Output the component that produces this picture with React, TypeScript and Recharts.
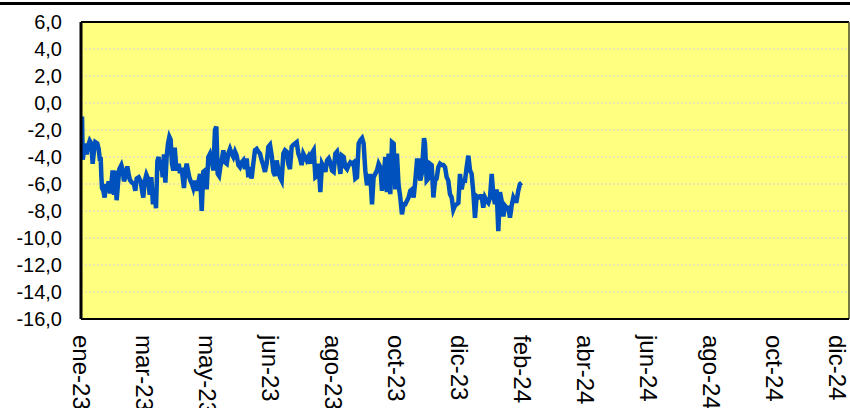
import React from "react";
import { LineChart, Line, XAxis, YAxis, CartesianGrid, ReferenceLine } from "recharts";

// days since 1 Jan 2023
const days: number[] = [
  1.0, 1.6, 2.9, 4.1, 5.4, 6.7, 8.3, 9.8, 11.1, 12.4, 13.6, 15.5, 16.8, 18.1, 18.7, 19.4, 20.0, 21.3, 22.5, 23.8,
  25.1, 26.3, 27.6, 28.9, 30.1, 31.4, 32.7, 33.9, 35.2, 36.5, 38.4, 39.7, 40.9, 42.2, 44.1, 45.4, 46.6, 48.5, 50.4, 51.7,
  53.0, 54.9, 56.8, 58.1, 59.3, 60.6, 62.2, 63.8, 65.4, 66.9, 68.5, 70.1, 71.4, 72.7, 73.9, 75.2, 76.5, 77.7, 79.0, 80.3,
  81.5, 82.8, 84.1, 85.3, 86.6, 87.9, 89.2, 90.4, 91.7, 93.0, 94.2, 95.5, 96.8, 98.0, 99.3, 100.6, 101.8, 103.1, 104.4, 105.7,
  106.9, 108.5, 110.1, 113.3, 114.9, 116.4, 118.0, 119.6, 121.2, 122.8, 124.4, 126.0, 127.5, 128.8, 130.1, 131.4, 132.6, 133.9, 135.5, 137.1,
  138.7, 140.2, 141.8, 143.4, 145.0, 146.6, 148.2, 149.8, 151.3, 152.9, 154.5, 156.1, 157.7, 159.3, 160.9, 162.4, 164.0, 165.6, 167.2, 168.8,
  170.4, 172.0, 173.5, 175.1, 176.7, 178.3, 179.9, 181.5, 183.1, 184.7, 186.2, 187.8, 189.4, 191.0, 192.6, 194.2, 195.8, 197.3, 198.9, 200.5,
  202.1, 203.7, 205.3, 206.9, 208.5, 210.0, 211.6, 213.2, 214.8, 216.4, 218.0, 219.6, 221.5, 223.1, 224.7, 226.2, 227.8, 229.4, 231.0, 232.6,
  234.2, 235.8, 237.3, 238.9, 240.5, 242.1, 243.7, 245.3, 246.9, 248.4, 250.0, 251.6, 253.2, 254.8, 256.4, 257.9, 259.5, 261.1, 262.7, 264.3,
  265.9, 267.5, 269.0, 270.6, 272.2, 273.8, 275.4, 277.0, 278.5, 280.1, 281.7, 283.3, 284.9, 286.5, 288.1, 289.6, 291.2, 292.8, 294.4, 296.0,
  297.6, 299.2, 300.7, 302.3, 303.9, 305.5, 307.1, 308.7, 310.2, 311.8, 313.4, 315.0, 316.6, 318.2, 319.8, 321.3, 322.9, 324.3, 326.5, 327.4,
  329.0, 330.6, 332.2, 333.8, 335.4, 337.0, 338.5, 340.1, 341.7, 343.3, 344.9, 346.5, 348.1, 349.6, 351.2, 352.8, 354.4, 356.0, 357.6, 359.2,
  360.7, 362.3, 363.9, 365.5, 367.1, 368.7, 370.3, 371.8, 373.4, 375.0, 376.6, 378.2, 379.8, 381.3, 382.9, 384.5, 386.1, 387.7, 389.3, 390.9,
  392.4, 394.0, 395.6, 397.2, 398.8, 400.4, 402.0, 403.5, 405.1, 406.7, 408.3, 409.9, 411.5, 413.0, 414.6, 416.2, 417.8, 419.4,
];

const values: number[] = [
  -1.0, -4.2, -3.5, -3.0, -3.8, -3.2, -2.8, -3.0, -4.5, -3.5, -2.9, -3.0, -3.4, -4.3, -4.0, -5.5, -6.3, -6.5, -7.0, -6.0,
  -6.5, -5.8, -6.7, -6.0, -5.0, -6.8, -5.0, -7.2, -6.0, -4.9, -4.6, -5.0, -5.8, -5.5, -4.7, -5.3, -5.7, -5.9, -6.0, -6.5,
  -5.6, -5.5, -5.8, -6.5, -7.0, -5.8, -5.3, -5.6, -6.8, -5.5, -7.5, -6.5, -7.8, -4.3, -4.0, -5.0, -4.2, -5.5, -3.8, -5.9,
  -4.0, -3.0, -2.5, -2.7, -4.5, -5.0, -3.3, -4.5, -5.0, -4.5, -5.2, -4.8, -5.5, -6.3, -5.0, -4.5, -5.0, -5.5, -5.8, -6.0,
  -6.3, -5.75, -6.5, -5.25, -8.0, -5.1, -5.0, -6.4, -4.0, -3.75, -4.25, -5.0, -2.0, -1.75, -5.25, -5.4, -4.75, -4.25, -3.5, -4.4,
  -4.5, -3.75, -3.4, -3.75, -4.0, -3.6, -3.9, -4.6, -4.75, -4.4, -4.25, -4.9, -4.1, -5.5, -4.75, -5.6, -4.5, -3.5, -3.4, -3.6,
  -3.75, -4.25, -4.6, -5.1, -4.5, -3.25, -3.1, -3.9, -5.1, -5.4, -4.25, -4.9, -5.5, -5.75, -3.75, -3.5, -3.6, -4.5, -4.9, -3.25,
  -3.1, -3.0, -2.9, -3.75, -4.1, -4.6, -3.75, -4.0, -4.25, -4.0, -4.5, -3.75, -3.5, -5.5, -5.4, -4.5, -6.6, -4.5, -4.75, -5.1,
  -4.25, -4.1, -4.4, -5.0, -5.1, -3.75, -3.6, -4.25, -5.25, -3.9, -4.0, -4.75, -4.9, -4.6, -4.4, -4.5, -4.4, -5.6, -5.5, -3.0,
  -2.75, -2.6, -3.0, -5.0, -6.1, -5.4, -5.4, -7.5, -5.5, -5.25, -5.0, -4.5, -4.75, -6.5, -5.5, -4.0, -6.6, -3.75, -6.75, -2.9,
  -3.0, -6.4, -3.75, -6.1, -7.0, -8.25, -7.5, -7.5, -7.25, -7.0, -6.5, -6.4, -7.0, -5.75, -4.25, -4.25, -5.75, -5.25, -2.6, -3.0,
  -5.75, -5.6, -4.5, -4.6, -7.0, -5.75, -5.6, -4.75, -4.5, -4.6, -4.6, -4.75, -5.5, -5.75, -6.75, -7.0, -7.9, -7.6, -7.5, -7.4,
  -5.25, -6.4, -5.75, -5.75, -4.75, -3.9, -5.0, -5.25, -6.6, -8.5, -6.9, -7.0, -6.9, -6.9, -7.75, -7.0, -7.25, -7.4, -7.0, -5.25,
  -6.75, -7.5, -6.4, -9.5, -6.6, -7.25, -8.4, -7.6, -7.75, -7.75, -8.5, -7.6, -7.0, -7.25, -7.25, -6.5, -6.0, -5.9,
];

const tickDays: number[] = [0, 60, 120, 180, 240, 300, 360, 420, 480, 540, 600, 660, 720];
const tickLabels: string[] = [
  "ene-23", "mar-23", "may-23", "jun-23", "ago-23", "oct-23", "dic-23",
  "feb-24", "abr-24", "jun-24", "ago-24", "oct-24", "dic-24",
];
const yTicks: number[] = [-16, -14, -12, -10, -8, -6, -4, -2, 0, 2, 4, 6];

const data = days.map((d, i) => ({ day: d, value: values[i] }));

const FONT = "'Liberation Sans', Arial, sans-serif";

const XTick = (props: any) => {
  const { x, y, payload } = props;
  const idx = tickDays.indexOf(payload.value);
  const label = idx >= 0 ? tickLabels[idx] : "";
  return (
    <text
      x={x}
      y={y}
      transform={`rotate(90 ${x} ${y})`}
      textAnchor="start"
      dy="0.35em"
      fontSize={24}
      fontFamily={FONT}
      fill="#000"
    >
      {label}
    </text>
  );
};

export default function App() {
  return (
    <div style={{ position: "relative", width: 850, height: 408, background: "#fff", overflow: "hidden" }}>
      <style>{`body{margin:0;}`}</style>
      <div style={{ position: "absolute", left: 0, top: 2, width: 850, height: 3, background: "#000" }} />
      <LineChart
        width={850}
        height={408}
        data={data}
        margin={{ top: 22, right: 1, bottom: 0, left: 0 }}
      >
        <CartesianGrid
          vertical={false}
          fill="#FFFF80"
          stroke="#D2D2D2"
          strokeDasharray="2 2"
        />
        <XAxis
          dataKey="day"
          type="number"
          domain={[0, 731]}
          ticks={tickDays}
          interval={0}
          height={89}
          tickLine={false}
          tickSize={0}
          tickMargin={16}
          axisLine={{ stroke: "#000", strokeWidth: 2 }}
          tick={<XTick />}
          allowDataOverflow
        />
        <YAxis
          type="number"
          domain={[-16, 6]}
          ticks={yTicks}
          interval={0}
          width={81}
          tickLine={false}
          tickSize={0}
          tickMargin={19}
          axisLine={{ stroke: "#000", strokeWidth: 3 }}
          tick={{ fontSize: 20, fontFamily: FONT, fill: "#000" }}
          tickFormatter={(v: number) => v.toFixed(1).replace(".", ",")}
          allowDataOverflow
        />
        <ReferenceLine y={6} stroke="#000" strokeWidth={2} />
        <ReferenceLine x={731} stroke="#4a4a20" strokeWidth={1.5} />
        <Line
          type="linear"
          dataKey="value"
          stroke="#0050BE"
          strokeWidth={4.5}
          dot={false}
          isAnimationActive={false}
        />
      </LineChart>
    </div>
  );
}
